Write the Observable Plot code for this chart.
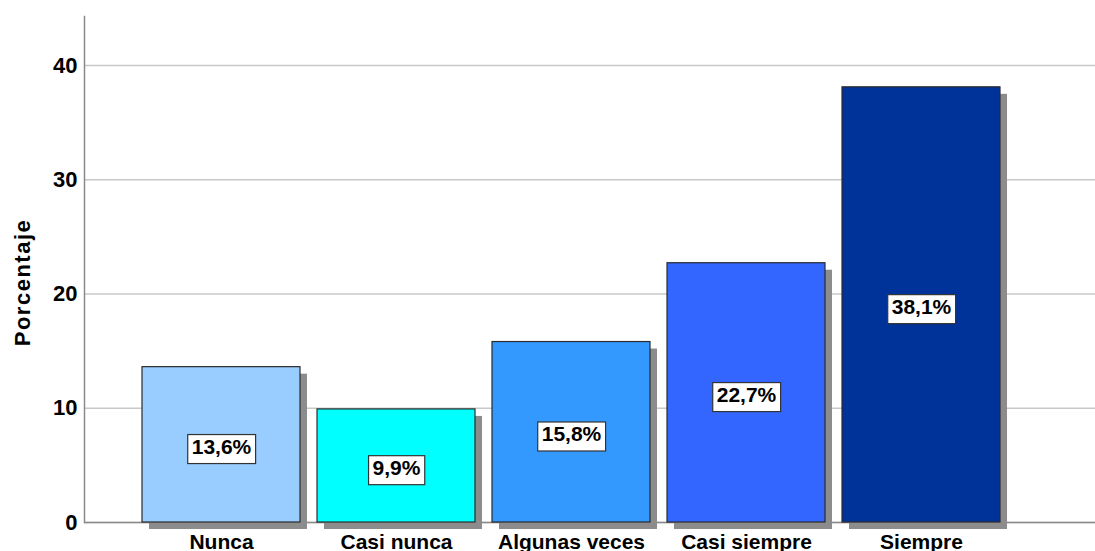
<!DOCTYPE html>
<html>
<head>
<meta charset="utf-8">
<script src="https://cdn.jsdelivr.net/npm/d3@7"></script>
<script src="https://cdn.jsdelivr.net/npm/@observablehq/plot@0.6"></script>
<style>
  html, body { margin: 0; padding: 0; background: #fff; }
  #chart svg { display: block; }
</style>
</head>
<body>
<div id="chart"></div>
<script>
// ---- Data ----
const categories = ["Nunca", "Casi nunca", "Algunas veces", "Casi siempre", "Siempre"];
const percentages = [13.6, 9.9, 15.8, 22.7, 38.1];
const yTicks = [0, 10, 20, 30, 40];
const yLabel = "Porcentaje";

// ---- Styles ----
const barColors = ["#99ccff", "#00ffff", "#3399ff", "#3366ff", "#003399"];

const data = categories.map((c, i) => ({category: c, value: percentages[i]}));
const fmt = v => v.toFixed(1).replace(".", ",") + "%";
const labelTexts = new Set(percentages.map(fmt));

const chart = Plot.plot({
  width: 1095,
  height: 551,
  marginLeft: 84,
  marginRight: 0,
  marginTop: 16,
  marginBottom: 29,
  style: {fontFamily: "'Liberation Sans', Arial, sans-serif", fontSize: "21px", fontWeight: "bold", color: "#000", background: "#fff"},
  x: {domain: categories, range: [133, 1008], paddingInner: 0.1, paddingOuter: 0.05, label: null},
  y: {domain: [0, 44.3], label: null},
  color: {domain: categories, range: barColors},
  marks: [
    Plot.gridY(yTicks, {stroke: "#c8c8c8", strokeOpacity: 1, strokeWidth: 1.5}),
    Plot.ruleY([0], {stroke: "#8a8a8a", strokeWidth: 1.5}),
    Plot.barY(data, {x: "category", y: "value", fill: "#8c8c8c", dx: 7, dy: 7}),
    Plot.frame({anchor: "left", stroke: "#8a8a8a", strokeWidth: 1.5}),
    Plot.barY(data, {x: "category", y: "value", fill: "category", stroke: "#2b2b2b", strokeWidth: 1.2}),
    Plot.text(data, {x: "category", y: d => d.value / 2, text: d => fmt(d.value), fill: "#000", fontSize: 21, dy: 2}),
    Plot.axisY(yTicks, {tickSize: 0, tickPadding: 7, label: null, fontSize: 22}),
    Plot.axisX({tickSize: 0, tickPadding: 12, label: null, fontSize: 21}),
    Plot.text([yLabel], {frameAnchor: "left", text: d => d, rotate: -90, textAnchor: "middle", dx: -62, dy: 13, fontSize: 22, fill: "#000"})
  ]
});

document.getElementById("chart").appendChild(chart);

// white boxes behind bar labels
const ns = "http://www.w3.org/2000/svg";
chart.querySelectorAll("text").forEach(t => {
  const s = t.textContent;
  if (labelTexts.has(s)) {
    const b = t.getBBox();
    const r = document.createElementNS(ns, "rect");
    r.setAttribute("x", b.x - 4);
    r.setAttribute("y", b.y);
    r.setAttribute("width", b.width + 8);
    r.setAttribute("height", b.height + 6);
    r.setAttribute("fill", "#fff");
    r.setAttribute("stroke", "#333");
    r.setAttribute("stroke-width", "1.2");
    const tr = t.getAttribute("transform");
    if (tr) r.setAttribute("transform", tr);
    t.parentNode.insertBefore(r, t);
  } else if (s === yLabel) {
    t.setAttribute("letter-spacing", "1.5");
  }
});
</script>
</body>
</html>
